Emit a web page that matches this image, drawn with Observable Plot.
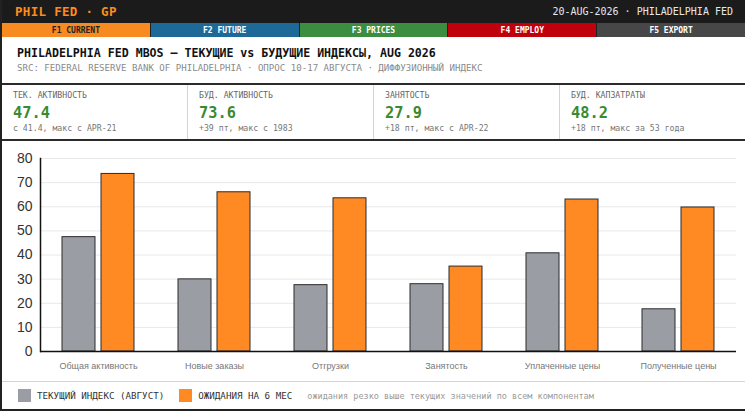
<!DOCTYPE html>
<html><head><meta charset="utf-8">
<script src="https://cdn.jsdelivr.net/npm/d3@7"></script>
<script src="https://cdn.jsdelivr.net/npm/@observablehq/plot@0.6"></script>
<style>
body{margin:0;background:#fff;}
#wrap{width:743px;border-left:2px solid #222;font-family:"DejaVu Sans Mono",monospace;overflow:hidden;}
#top{height:23px;background:#1b1b1b;display:flex;align-items:center;justify-content:space-between;padding:0 12px 0 13px;}
#brand{color:#ff8c1a;font-weight:bold;font-size:12.5px;letter-spacing:0.3px;}
#date{color:#e8e8e8;font-size:10px;}
#tabs{height:14px;display:flex;}
#tabs div{flex:1;display:flex;align-items:center;justify-content:center;font-size:8px;font-weight:bold;color:#fff;border-right:1px solid #222;}
#tabs div:last-child{border-right:none;}
#head{padding:9px 0 9px 15px;}
#title{font-size:11.6px;font-weight:bold;color:#111;line-height:14px;white-space:nowrap;}
#sub{font-size:9.1px;color:#8a8a8a;line-height:12px;margin-top:2px;white-space:nowrap;}
#kpi{display:flex;border-top:2px solid #2a2a2a;border-bottom:2px solid #2a2a2a;height:54px;}
.cell{flex:1;padding:5px 0 0 11px;}
.cell+.cell{border-left:1px solid #d4d4d4;}
.klab{font-size:8.2px;color:#666;line-height:10px;}
.kval{font-size:15.3px;font-weight:bold;color:#3a8a2e;line-height:18px;margin-top:4px;}
.knote{font-size:8.2px;color:#777;line-height:10px;margin-top:1px;}
#chart{height:240px;}
#chart svg{display:block;}
#legend{border-top:1px solid #d4d4d4;border-bottom:2px solid #222;height:27px;display:flex;align-items:center;padding-left:16px;font-size:9.2px;}
.sw{width:13px;height:13px;margin-right:6px;}
.lt{color:#333;margin-right:15px;white-space:nowrap;}
.note{color:#9a9a9a;font-size:8.5px;white-space:nowrap;}
</style>
</head><body>
<div id="wrap">
  <div id="top"><span id="brand"></span><span id="date"></span></div>
  <div id="tabs"></div>
  <div id="head"><div id="title"></div><div id="sub"></div></div>
  <div id="kpi"></div>
  <div id="chart"></div>
  <div id="legend"></div>
</div>
<script>
// ---- data ----
const brandText = "PHIL FED · GP";
const dateText = "20-AUG-2026 · PHILADELPHIA FED";
const tabLabels = ["F1 CURRENT", "F2 FUTURE", "F3 PRICES", "F4 EMPLOY", "F5 EXPORT"];
const titleText = "PHILADELPHIA FED MBOS — ТЕКУЩИЕ vs БУДУЩИЕ ИНДЕКСЫ, AUG 2026";
const subText = "SRC: FEDERAL RESERVE BANK OF PHILADELPHIA · ОПРОС 10-17 АВГУСТА · ДИФФУЗИОННЫЙ ИНДЕКС";
const kpiLabels = ["ТЕК. АКТИВНОСТЬ", "БУД. АКТИВНОСТЬ", "ЗАНЯТОСТЬ", "БУД. КАПЗАТРАТЫ"];
const kpiValues = ["47.4", "73.6", "27.9", "48.2"];
const kpiNotes = ["с 41.4, макс с APR-21", "+39 пт, макс с 1983", "+18 пт, макс с APR-22", "+18 пт, макс за 53 года"];
const categories = ["Общая активность", "Новые заказы", "Отгрузки", "Занятость", "Уплаченные цены", "Полученные цены"];
const seriesNames = ["ТЕКУЩИЙ ИНДЕКС (АВГУСТ)", "ОЖИДАНИЯ НА 6 МЕС"];
const currentValues = [47.4, 29.9, 27.5, 27.9, 40.7, 17.5];
const futureValues = [73.6, 66.0, 63.5, 35.2, 63.0, 59.7];
const yTicks = [0, 10, 20, 30, 40, 50, 60, 70, 80];
const legendNote = "ожидания резко выше текущих значений по всем компонентам";

// ---- styles ----
const tabColors = ["#f78b22", "#1d6a98", "#3c8d40", "#c0000c", "#474747"];
const tabText = ["#222", "#fff", "#fff", "#fff", "#fff"];
const seriesColors = ["#9a9ea4", "#ff8a24"];

document.getElementById("brand").textContent = brandText;
document.getElementById("date").textContent = dateText;
const tabs = document.getElementById("tabs");
tabLabels.forEach((t, i) => {
  const d = document.createElement("div");
  d.textContent = t; d.style.background = tabColors[i]; d.style.color = tabText[i];
  tabs.appendChild(d);
});
document.getElementById("title").textContent = titleText;
document.getElementById("sub").textContent = subText;
const kpi = document.getElementById("kpi");
kpiLabels.forEach((l, i) => {
  const c = document.createElement("div"); c.className = "cell";
  c.innerHTML = `<div class="klab"></div><div class="kval"></div><div class="knote"></div>`;
  c.querySelector(".klab").textContent = l;
  c.querySelector(".kval").textContent = kpiValues[i];
  c.querySelector(".knote").textContent = kpiNotes[i];
  kpi.appendChild(c);
});

const data = categories.flatMap((c, i) => [
  {cat: c, series: seriesNames[0], value: currentValues[i]},
  {cat: c, series: seriesNames[1], value: futureValues[i]}
]);

const chart = Plot.plot({
  width: 743, height: 240,
  marginLeft: 36, marginRight: 8, marginTop: 17, marginBottom: 30,
  fx: {domain: categories, padding: 0, label: null},
  x: {domain: seriesNames, paddingInner: 0.15, paddingOuter: 0.53, axis: null},
  y: {domain: [0, 80], label: null},
  color: {domain: seriesNames, range: seriesColors},
  style: {fontFamily: "'Liberation Sans', Arial, sans-serif", background: "transparent", overflow: "visible"},
  marks: [
    Plot.gridY(yTicks, {stroke: "#e8e8e8", strokeOpacity: 1}),
    Plot.barY(data, {fx: "cat", x: "series", y: "value", fill: "series", stroke: "#2b2b2b", strokeWidth: 1}),
    Plot.ruleY([0], {stroke: "#111", strokeWidth: 1.5}),
    Plot.axisY(yTicks, {tickSize: 0, tickPadding: 8, fontSize: 14, fill: "#333", label: null}),
    Plot.axisFx({anchor: "bottom", tickSize: 0, tickPadding: 11, fontSize: 9, fill: "#777", label: null}),
    Plot.frame({anchor: "left", facetAnchor: "left", stroke: "#111", strokeWidth: 1.5})
  ]
});
document.getElementById("chart").appendChild(chart);

const legend = document.getElementById("legend");
seriesNames.forEach((s, i) => {
  const sw = document.createElement("div"); sw.className = "sw"; sw.style.background = seriesColors[i];
  const t = document.createElement("span"); t.className = "lt"; t.textContent = s;
  legend.appendChild(sw); legend.appendChild(t);
});
const n = document.createElement("span"); n.className = "note"; n.textContent = legendNote;
legend.appendChild(n);
</script>
</body></html>
